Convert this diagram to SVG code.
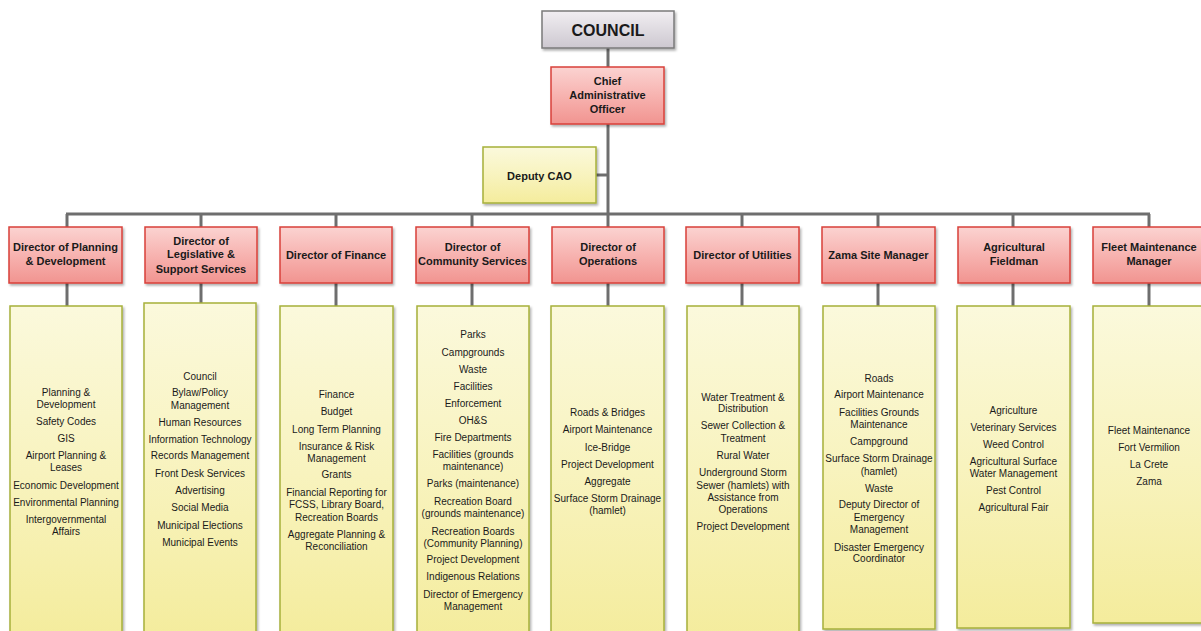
<svg xmlns="http://www.w3.org/2000/svg" width="1201" height="631" viewBox="0 0 1201 631">
<defs>
<linearGradient id="gGray" x1="0" y1="0" x2="0" y2="1"><stop offset="0" stop-color="#f1eef2"/><stop offset="1" stop-color="#cdc8d0"/></linearGradient>
<linearGradient id="gRed" x1="0" y1="0" x2="0" y2="1"><stop offset="0" stop-color="#fbd3d1"/><stop offset="0.5" stop-color="#f7b3b0"/><stop offset="1" stop-color="#f19490"/></linearGradient>
<linearGradient id="gYel" x1="0" y1="0" x2="0" y2="1"><stop offset="0" stop-color="#fbf9dc"/><stop offset="0.5" stop-color="#f8f3be"/><stop offset="1" stop-color="#f4ec9c"/></linearGradient>
<filter id="sh" x="-10%" y="-10%" width="130%" height="130%"><feDropShadow dx="1.5" dy="2" stdDeviation="1.2" flood-color="#000" flood-opacity="0.3"/></filter>
<style>
.council{fill:url(#gGray);stroke:#7a7a7a;stroke-width:1.5;filter:url(#sh)}
.red{fill:url(#gRed);stroke:#d9403a;stroke-width:1.5;filter:url(#sh)}
.yel{fill:url(#gYel);stroke:#a7b03a;stroke-width:1.5;filter:url(#sh)}
.t{font-family:"Liberation Sans",Arial,sans-serif;text-anchor:middle;fill:#1a1a1a}
.b{font-weight:bold;font-size:11px}
.s{font-size:10px}
.conn{stroke:#6e6e6e;stroke-width:3;fill:none}
</style>
</defs>
<rect width="1201" height="631" fill="#ffffff"/>
<g id="connectors" class="conn">
<line x1="608" y1="48" x2="608" y2="67"/>
<line x1="608" y1="124" x2="608" y2="214"/>
<line x1="596" y1="175" x2="608" y2="175"/>
<line x1="66" y1="214" x2="1150" y2="214"/>
<line x1="67" y1="214" x2="67" y2="227"/>
<line x1="201" y1="214" x2="201" y2="227"/>
<line x1="336" y1="214" x2="336" y2="227"/>
<line x1="472" y1="214" x2="472" y2="227"/>
<line x1="608" y1="214" x2="608" y2="227"/>
<line x1="742" y1="214" x2="742" y2="227"/>
<line x1="878" y1="214" x2="878" y2="227"/>
<line x1="1013" y1="214" x2="1013" y2="227"/>
<line x1="1149" y1="214" x2="1149" y2="227"/>
<line x1="67" y1="283" x2="67" y2="306"/>
<line x1="201" y1="283" x2="201" y2="303"/>
<line x1="336" y1="283" x2="336" y2="306"/>
<line x1="472" y1="283" x2="472" y2="306"/>
<line x1="608" y1="283" x2="608" y2="306"/>
<line x1="742" y1="283" x2="742" y2="306"/>
<line x1="878" y1="283" x2="878" y2="306"/>
<line x1="1013" y1="283" x2="1013" y2="306"/>
<line x1="1149" y1="283" x2="1149" y2="306"/>
</g>
<g id="council"><rect class="council" x="542" y="11" width="132" height="37"/><text class="t" x="608" y="35.5" font-size="16" font-weight="bold">COUNCIL</text></g>
<g id="cao"><rect class="red" x="551" y="67" width="113" height="57"/><text class="t b" x="607.5" y="85" font-size="11.5">Chief</text><text class="t b" x="607.5" y="99">Administrative</text><text class="t b" x="607.5" y="113">Officer</text></g>
<g id="deputy-cao"><rect class="yel" x="483" y="147" width="113" height="56"/><text class="t b" x="539.5" y="180">Deputy CAO</text></g>

<g id="dir-planning"><rect class="red" x="9" y="227" width="113" height="56"/><text class="t b" x="65.5" y="251">Director of Planning</text><text class="t b" x="65.5" y="265">&amp; Development</text></g>
<g id="dir-legislative"><rect class="red" x="145" y="227" width="112" height="56"/><text class="t b" x="201" y="245">Director of</text><text class="t b" x="201" y="258">Legislative &amp;</text><text class="t b" x="201" y="273">Support Services</text></g>
<g id="dir-finance"><rect class="red" x="280" y="227" width="112" height="56"/><text class="t b" x="336" y="259">Director of Finance</text></g>
<g id="dir-community"><rect class="red" x="416" y="227" width="113" height="56"/><text class="t b" x="472.5" y="251">Director of</text><text class="t b" x="472.5" y="265">Community Services</text></g>
<g id="dir-operations"><rect class="red" x="552" y="227" width="112" height="56"/><text class="t b" x="608" y="251">Director of</text><text class="t b" x="608" y="265">Operations</text></g>
<g id="dir-utilities"><rect class="red" x="686" y="227" width="113" height="56"/><text class="t b" x="742.5" y="259">Director of Utilities</text></g>
<g id="zama-site-manager"><rect class="red" x="822" y="227" width="113" height="56"/><text class="t b" x="878.5" y="259">Zama Site Manager</text></g>
<g id="ag-fieldman"><rect class="red" x="958" y="227" width="112" height="56"/><text class="t b" x="1014" y="251">Agricultural</text><text class="t b" x="1014" y="265">Fieldman</text></g>
<g id="fleet-manager"><rect class="red" x="1093" y="227" width="113" height="56"/><text class="t b" x="1149" y="251">Fleet Maintenance</text><text class="t b" x="1149" y="265">Manager</text></g>

<g id="list-planning"><rect class="yel" x="10" y="306" width="112" height="335"/>
<text class="t s" x="66" y="396">Planning &amp;</text><text class="t s" x="66" y="408">Development</text><text class="t s" x="66" y="425">Safety Codes</text><text class="t s" x="66" y="442">GIS</text><text class="t s" x="66" y="459">Airport Planning &amp;</text><text class="t s" x="66" y="471">Leases</text><text class="t s" x="66" y="489">Economic Development</text><text class="t s" x="66" y="506">Environmental Planning</text><text class="t s" x="66" y="523">Intergovernmental</text><text class="t s" x="66" y="535">Affairs</text></g>

<g id="list-legislative"><rect class="yel" x="144" y="303" width="112" height="338"/>
<text class="t s" x="200" y="379.5">Council</text><text class="t s" x="200" y="396">Bylaw/Policy</text><text class="t s" x="200" y="408.5">Management</text><text class="t s" x="200" y="425.5">Human Resources</text><text class="t s" x="200" y="442.5">Information Technology</text><text class="t s" x="200" y="459">Records Management</text><text class="t s" x="200" y="476.5">Front Desk Services</text><text class="t s" x="200" y="493.5">Advertising</text><text class="t s" x="200" y="510.5">Social Media</text><text class="t s" x="200" y="528.5">Municipal Elections</text><text class="t s" x="200" y="545.5">Municipal Events</text></g>

<g id="list-finance"><rect class="yel" x="280" y="306" width="113" height="335"/>
<text class="t s" x="336.5" y="397.5">Finance</text><text class="t s" x="336.5" y="414.5">Budget</text><text class="t s" x="336.5" y="432.5">Long Term Planning</text><text class="t s" x="336.5" y="449.5">Insurance &amp; Risk</text><text class="t s" x="336.5" y="461.5">Management</text><text class="t s" x="336.5" y="477.5">Grants</text><text class="t s" x="336.5" y="495.5">Financial Reporting for</text><text class="t s" x="336.5" y="507.5">FCSS, Library Board,</text><text class="t s" x="336.5" y="520.5">Recreation Boards</text><text class="t s" x="336.5" y="537.5">Aggregate Planning &amp;</text><text class="t s" x="336.5" y="549.5">Reconciliation</text></g>

<g id="list-community"><rect class="yel" x="417" y="306" width="112" height="335"/>
<text class="t s" x="473" y="337.5">Parks</text><text class="t s" x="473" y="355.5">Campgrounds</text><text class="t s" x="473" y="372.5">Waste</text><text class="t s" x="473" y="389.5">Facilities</text><text class="t s" x="473" y="406.5">Enforcement</text><text class="t s" x="473" y="423.5">OH&amp;S</text><text class="t s" x="473" y="440.5">Fire Departments</text><text class="t s" x="473" y="457.5">Facilities (grounds</text><text class="t s" x="473" y="469.5">maintenance)</text><text class="t s" x="473" y="486.5">Parks (maintenance)</text><text class="t s" x="473" y="504.5">Recreation Board</text><text class="t s" x="473" y="516.5">(grounds maintenance)</text><text class="t s" x="473" y="534.5">Recreation Boards</text><text class="t s" x="473" y="546.5">(Community Planning)</text><text class="t s" x="473" y="562.5">Project Development</text><text class="t s" x="473" y="579.5">Indigenous Relations</text><text class="t s" x="473" y="597.5">Director of Emergency</text><text class="t s" x="473" y="609.5">Management</text></g>

<g id="list-operations"><rect class="yel" x="551" y="306" width="113" height="335"/>
<text class="t s" x="607.5" y="415.5">Roads &amp; Bridges</text><text class="t s" x="607.5" y="432.5">Airport Maintenance</text><text class="t s" x="607.5" y="450.5">Ice-Bridge</text><text class="t s" x="607.5" y="467.5">Project Development</text><text class="t s" x="607.5" y="484.5">Aggregate</text><text class="t s" x="607.5" y="501.5">Surface Storm Drainage</text><text class="t s" x="607.5" y="513.5">(hamlet)</text></g>

<g id="list-utilities"><rect class="yel" x="687" y="306" width="112" height="335"/>
<text class="t s" x="743" y="400.5">Water Treatment &amp;</text><text class="t s" x="743" y="411.5">Distribution</text><text class="t s" x="743" y="428.5">Sewer Collection &amp;</text><text class="t s" x="743" y="441.5">Treatment</text><text class="t s" x="743" y="458.5">Rural Water</text><text class="t s" x="743" y="475.5">Underground Storm</text><text class="t s" x="743" y="488.5">Sewer (hamlets) with</text><text class="t s" x="743" y="500.5">Assistance from</text><text class="t s" x="743" y="512.5">Operations</text><text class="t s" x="743" y="529.5">Project Development</text></g>

<g id="list-zama"><rect class="yel" x="823" y="306" width="112" height="323"/>
<text class="t s" x="879" y="381.5">Roads</text><text class="t s" x="879" y="397.5">Airport Maintenance</text><text class="t s" x="879" y="415.5">Facilities Grounds</text><text class="t s" x="879" y="427.5">Maintenance</text><text class="t s" x="879" y="444.5">Campground</text><text class="t s" x="879" y="461.5">Surface Storm Drainage</text><text class="t s" x="879" y="474.5">(hamlet)</text><text class="t s" x="879" y="491.5">Waste</text><text class="t s" x="879" y="507.5">Deputy Director of</text><text class="t s" x="879" y="520.5">Emergency</text><text class="t s" x="879" y="532.5">Management</text><text class="t s" x="879" y="550.5">Disaster Emergency</text><text class="t s" x="879" y="561.5">Coordinator</text></g>

<g id="list-agriculture"><rect class="yel" x="957" y="306" width="113" height="322"/>
<text class="t s" x="1013.5" y="413.5">Agriculture</text><text class="t s" x="1013.5" y="430.5">Veterinary Services</text><text class="t s" x="1013.5" y="447.5">Weed Control</text><text class="t s" x="1013.5" y="464.5">Agricultural Surface</text><text class="t s" x="1013.5" y="476.5">Water Management</text><text class="t s" x="1013.5" y="493.5">Pest Control</text><text class="t s" x="1013.5" y="510.5">Agricultural Fair</text></g>

<g id="list-fleet"><rect class="yel" x="1093" y="306" width="113" height="317"/>
<text class="t s" x="1149" y="433.5">Fleet Maintenance</text><text class="t s" x="1149" y="450.5">Fort Vermilion</text><text class="t s" x="1149" y="467.5">La Crete</text><text class="t s" x="1149" y="484.5">Zama</text></g>
</svg>
